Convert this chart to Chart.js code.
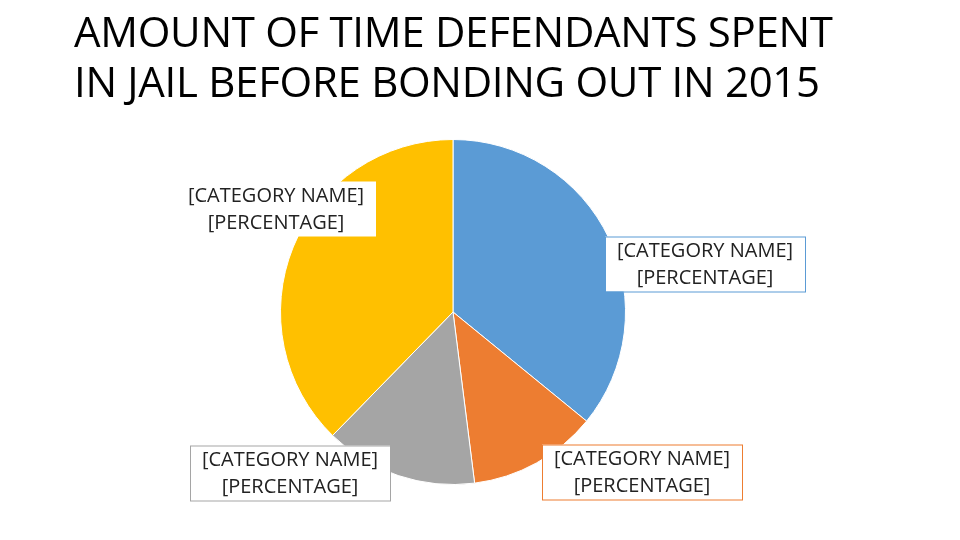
<!DOCTYPE html>
<html><head><meta charset="utf-8">
<script src="https://cdn.jsdelivr.net/npm/chart.js@4"></script>
<style>
body{margin:0;background:#fff;width:960px;height:540px;overflow:hidden;position:relative;font-family:Lato,"Open Sans",sans-serif}
#t{position:absolute;left:74px;top:6px;font-size:42px;line-height:50px;color:#000;font-family:"Open Sans",Lato,sans-serif;letter-spacing:-0.3px}
canvas{position:absolute;left:0;top:0}
</style></head><body>
<canvas id="c" width="960" height="540"></canvas>
<div id="t">AMOUNT OF TIME DEFENDANTS SPENT<br>IN JAIL BEFORE BONDING OUT IN 2015</div>
<script>
const categories=["Blue","Orange","Gray","Yellow"];
const values=[35.9,12.1,14.3,37.7];
const colors=["#5b9bd5","#ed7d31","#a5a5a5","#ffc000"];
const labelText=["[CATEGORY NAME]","[PERCENTAGE]"];
const boxes=[{x:705,y:264,b:"#5b9bd5"},{x:642,y:472,b:"#ed7d31"},{x:290,y:473,b:"#a5a5a5"},{x:276,y:209,b:null}];
const lab={id:"lab",afterDraw(ch){const g=ch.ctx;g.save();g.font='20px "Open Sans",Lato,sans-serif';g.textAlign="center";g.textBaseline="middle";
boxes.forEach(b=>{const w=200,h=55;g.fillStyle="#fff";g.fillRect(b.x-w/2,b.y-h/2,w,h);if(b.b){g.strokeStyle=b.b;g.lineWidth=1;g.strokeRect(b.x-w/2+.5,b.y-h/2+.5,w,h);}
g.fillStyle="#222";g.fillText(labelText[0],b.x,b.y-13);g.fillText(labelText[1],b.x,b.y+14);});g.restore();}};
new Chart(document.getElementById("c"),{type:"pie",data:{labels:categories,datasets:[{data:values,backgroundColor:colors,borderColor:"#fff",borderWidth:1}]},
options:{responsive:false,animation:false,layout:{padding:{top:139,bottom:55,left:280,right:334}},plugins:{legend:{display:false},tooltip:{enabled:false}}},plugins:[lab]});
</script></body></html>
